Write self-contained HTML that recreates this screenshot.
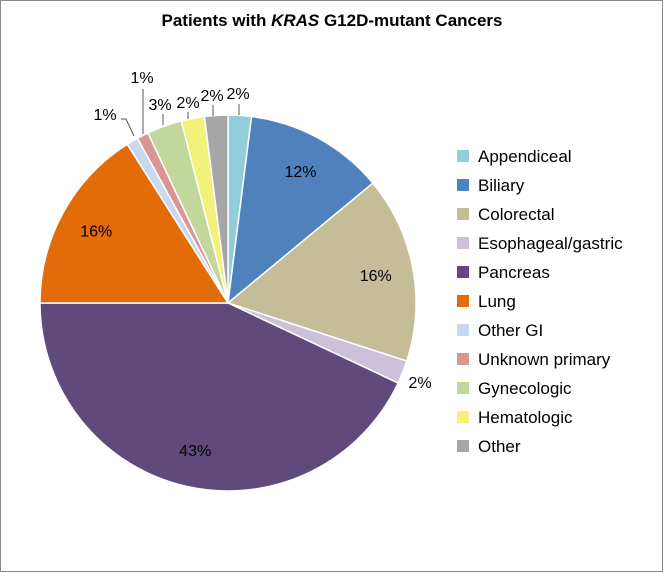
<!DOCTYPE html>
<html><head><meta charset="utf-8"><style>
body{margin:0;background:#fff;font-family:"Liberation Sans",Arial,sans-serif}
svg text{font-family:"Liberation Sans",Arial,sans-serif}
</style></head><body>
<svg id="chart" width="664" height="573">
<rect x="0.5" y="0.5" width="662" height="571" fill="#fff" stroke="#888"/>
<text x="332" y="26" text-anchor="middle" font-size="17" font-weight="bold">Patients with <tspan font-style="italic">KRAS</tspan> G12D-mutant Cancers</text>
<g id="slices"></g><g id="labels"></g><g id="legend"></g>
</svg>
<script>
const categories=["Appendiceal","Biliary","Colorectal","Esophageal/gastric","Pancreas","Lung","Other GI","Unknown primary","Gynecologic","Hematologic","Other"];
const values=[2,12,16,2,43,16,1,1,3,2,2];
const labels=["2%","12%","16%","2%","43%","16%","1%","1%","3%","2%","2%"];
const colors=["#92CDDC","#4F81BD","#C4BD97","#CCC0DA","#604A7B","#E36C09","#C6D9F1","#D99694","#C3D69B","#F2F27A","#A6A6A6"];
const NS="http://www.w3.org/2000/svg";
const cx=228,cy=303,R=188;
const total=values.reduce((a,b)=>a+b,0);
const sG=document.getElementById('slices'),lG=document.getElementById('labels'),gG=document.getElementById('legend');
function pt(a,r){return [cx+r*Math.sin(a),cy-r*Math.cos(a)];}
function mk(t,at){const e=document.createElementNS(NS,t);for(const k in at)e.setAttribute(k,at[k]);return e;}
let acc=0;
const outside={0:{x:238,y:99,line:[[239,104],[239,115]]},3:{x:420,y:388,line:null},
 6:{x:105,y:120,line:[[121,119],[126,119],[134,136]]},7:{x:142,y:83,line:[[143,89],[143,134]]},
 8:{x:160,y:110,line:[[163,114],[163,125]]},9:{x:188,y:108,line:[[188,112],[188,119]]},10:{x:212,y:101,line:[[213,105],[213,116]]}};
values.forEach((v,i)=>{
  const a0=acc/total*2*Math.PI;acc+=v;const a1=acc/total*2*Math.PI;
  const p0=pt(a0,R),p1=pt(a1,R);const large=(a1-a0)>Math.PI?1:0;
  const p=mk('path',{d:`M${cx},${cy}L${p0[0]},${p0[1]}A${R},${R} 0 ${large} 1 ${p1[0]},${p1[1]}Z`,fill:colors[i],stroke:'#fff','stroke-width':1.5});
  
  
  sG.appendChild(p);
  let lx,ly;
  if(outside[i]){lx=outside[i].x;ly=outside[i].y;
    if(outside[i].line){const l=mk('polyline',{points:outside[i].line.map(q=>q.join(',')).join(' '),fill:'none',stroke:'#555','stroke-width':1});
      
      
      lG.appendChild(l);}
  } else {const m=pt((a0+a1)/2,R*0.8);lx=m[0];ly=m[1]+6;}
  const t=mk('text',{x:lx,y:ly,'text-anchor':'middle','font-size':16,fill:'#000'});
  t.textContent=labels[i];
  
  
  lG.appendChild(t);
  const y=156+i*29;
  const r=mk('rect',{x:457,y:y-6,width:12,height:12,fill:colors[i]});
  
  
  gG.appendChild(r);
  const lt=mk('text',{x:478,y:y+6,'font-size':17,fill:'#000'});
  lt.textContent=categories[i];
  
  
  gG.appendChild(lt);
});
</script>
</body></html>
